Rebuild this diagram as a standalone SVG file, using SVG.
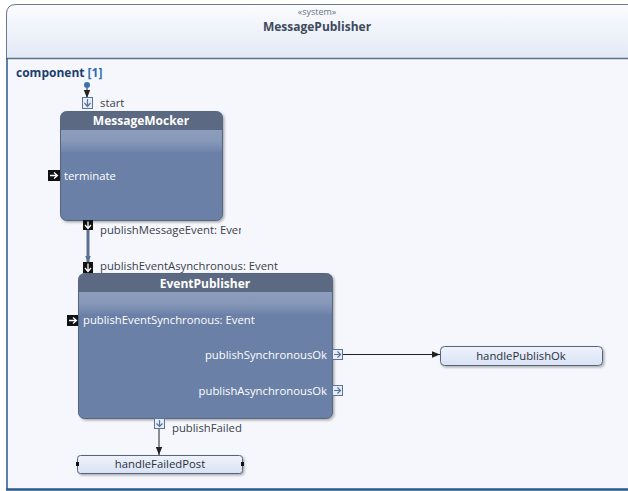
<svg xmlns="http://www.w3.org/2000/svg" width="628" height="491" viewBox="0 0 628 491">
  <defs>
    <linearGradient id="hdrGrad" x1="0" y1="0" x2="0" y2="1">
      <stop offset="0" stop-color="#fbfcfe"/>
      <stop offset="1" stop-color="#e2e9f6"/>
    </linearGradient>
    <linearGradient id="bandGrad" x1="0" y1="0" x2="0" y2="1">
      <stop offset="0" stop-color="#8c9dbd"/>
      <stop offset="0.5" stop-color="#8798b9"/>
      <stop offset="1" stop-color="#6f84ab"/>
    </linearGradient>
    <linearGradient id="callGrad" x1="0" y1="0" x2="0" y2="1">
      <stop offset="0" stop-color="#eef2fb"/>
      <stop offset="1" stop-color="#d9e2f4"/>
    </linearGradient>
    <filter id="shadow" x="-10%" y="-10%" width="130%" height="130%">
      <feDropShadow dx="1.5" dy="1.5" stdDeviation="1.2" flood-color="#000" flood-opacity="0.3"/>
    </filter>
    <marker id="arrow" viewBox="0 0 10 10" refX="10" refY="5" markerWidth="8" markerHeight="8" markerUnits="userSpaceOnUse" orient="auto">
      <path d="M0,1 L10,5 L0,9 z" fill="#222"/>
    </marker>
    <marker id="arrowBlue" viewBox="0 0 10 10" refX="10" refY="5" markerWidth="7" markerHeight="7" markerUnits="userSpaceOnUse" orient="auto">
      <path d="M0,1 L10,5 L0,9 z" fill="#5b6f92"/>
    </marker>
  </defs>
  <style>
    text { font-family: "Open Sans", "Noto Sans", "Liberation Sans", sans-serif; }
    .lbl { font-size: 11.3px; fill: #3a414c; }
    .wlbl { font-size: 11.3px; fill: #ffffff; }
    .title { font-size: 12px; font-weight: bold; fill: #ffffff; text-anchor: middle; }
    .part { fill: #6b80a7; stroke: #56667f; stroke-width: 1; }
    .partHdr { fill: #5b6982; }
    .band { fill: url(#bandGrad); }
    .blackPort { fill: #111; }
    .outPort { fill: #e6edf8; stroke: #5b7397; stroke-width: 1; }
    .glyph { fill: none; stroke: #fff; stroke-width: 1.3; }
    .glyphDark { fill: none; stroke: #5b7397; stroke-width: 1.2; }
    .call { fill: url(#callGrad); stroke: #55657d; stroke-width: 1; }
    .callText { font-size: 11.3px; fill: #2a2f3a; text-anchor: middle; }
    .conn { stroke: #222; stroke-width: 1; fill: none; }
  </style>

  <!-- background -->
  <rect x="0" y="0" width="628" height="491" fill="#ffffff"/>

  <!-- system frame -->
  <g id="system-frame">
    <path d="M6,490 L6,14 Q6,4 16,4 L630,4 L630,490 Z" fill="#f5f7fc"/>
    <path d="M6,58 L6,14 Q6,4 16,4 L630,4 L630,58 Z" fill="url(#hdrGrad)"/>
    <line x1="6" y1="58.5" x2="630" y2="58.5" stroke="#5d6f88" stroke-width="1.5"/>
    <path d="M6.5,58 L6.5,14 Q6.5,4.5 16,4.5 L630,4.5" fill="none" stroke="#6a7a92" stroke-width="1"/>
    <line x1="7" y1="58" x2="7" y2="490" stroke="#2c5a8c" stroke-width="1.5"/>
    <line x1="6" y1="489.5" x2="630" y2="489.5" stroke="#2c5a8c" stroke-width="2.5"/>
    <text x="317" y="15" font-size="9" fill="#6b7585" text-anchor="middle">«system»</text>
    <text x="317" y="31" font-size="12" font-weight="bold" fill="#3d4a5c" text-anchor="middle">MessagePublisher</text>
    <text x="16" y="77" font-size="12" font-weight="bold" fill="#1f3e6e">component <tspan fill="#2e6db4" font-weight="bold">[1]</tspan></text>
  </g>

  <!-- connectors -->
  <g id="connectors">
    <circle cx="87" cy="85" r="3" fill="#3c6fb0"/>
    <line class="conn" x1="87" y1="88" x2="87" y2="98" marker-end="url(#arrow)"/>
    <line x1="88" y1="230" x2="88" y2="263" stroke="#5b6f92" stroke-width="3" marker-end="url(#arrowBlue)"/>
    <line class="conn" x1="342" y1="354.5" x2="440" y2="354.5" marker-end="url(#arrow)"/>
    <line class="conn" x1="159" y1="428" x2="159" y2="455" marker-end="url(#arrow)"/>
  </g>

  <!-- MessageMocker part -->
  <g id="MessageMocker">
    <rect class="part" x="60.5" y="111.5" width="162" height="109" rx="6" filter="url(#shadow)"/>
    <path class="partHdr" d="M61,130 L61,117.5 Q61,112 66.5,112 L216.5,112 Q222,112 222,117.5 L222,130 Z"/>
    <rect class="band" x="61" y="130" width="161" height="22"/>
    <text class="title" x="141" y="125">MessageMocker</text>
    <!-- start port -->
    <rect class="outPort" x="82.5" y="97.5" width="10" height="11"/>
    <path class="glyphDark" d="M87.5,99 V106 M84.5,103 L87.5,106.5 L90.5,103"/>
    <text class="lbl" x="100" y="107">start</text>
    <!-- terminate port -->
    <rect class="blackPort" x="48" y="170" width="12" height="11"/>
    <path class="glyph" d="M50,175.5 H57 M54,172.5 L57.5,175.5 L54,178.5"/>
    <text class="wlbl" x="64" y="180">terminate</text>
    <!-- publishMessageEvent port -->
    <rect class="blackPort" x="83" y="220" width="10" height="10"/>
    <path class="glyph" d="M88,221.5 V228 M85,225 L88,228.5 L91,225"/>
    <svg x="100" y="220" width="141" height="20" overflow="hidden">
      <text class="lbl" x="0" y="14">publishMessageEvent: Event</text>
    </svg>
  </g>

  <!-- EventPublisher part -->
  <g id="EventPublisher">
    <rect class="part" x="78.5" y="273.5" width="254" height="145" rx="6" filter="url(#shadow)"/>
    <path class="partHdr" d="M79,292 L79,279.5 Q79,274 84.5,274 L326.5,274 Q332,274 332,279.5 L332,292 Z"/>
    <rect class="band" x="79" y="292" width="253" height="22"/>
    <text class="title" x="205" y="288">EventPublisher</text>
    <!-- publishEventAsynchronous port -->
    <rect class="blackPort" x="83" y="262" width="10" height="11"/>
    <path class="glyph" d="M88,263.5 V271 M85,268 L88,271.5 L91,268"/>
    <text class="lbl" x="100" y="270">publishEventAsynchronous: Event</text>
    <!-- publishEventSynchronous port -->
    <rect class="blackPort" x="67" y="315" width="11" height="11"/>
    <path class="glyph" d="M69,320.5 H76 M73,317.5 L76.5,320.5 L73,323.5"/>
    <text class="wlbl" x="83" y="324">publishEventSynchronous: Event</text>
    <!-- publishSynchronousOk port -->
    <rect class="outPort" x="332.5" y="349.5" width="10" height="10"/>
    <path class="glyphDark" d="M334,354.5 H340.5 M337.5,351.5 L340.5,354.5 L337.5,357.5"/>
    <text class="wlbl" x="327" y="358.5" text-anchor="end">publishSynchronousOk</text>
    <!-- publishAsynchronousOk port -->
    <rect class="outPort" x="332.5" y="385.5" width="10" height="10"/>
    <path class="glyphDark" d="M334,390.5 H340.5 M337.5,387.5 L340.5,390.5 L337.5,393.5"/>
    <text class="wlbl" x="327" y="394.5" text-anchor="end">publishAsynchronousOk</text>
    <!-- publishFailed port -->
    <rect class="outPort" x="154.5" y="418.5" width="10" height="10"/>
    <path class="glyphDark" d="M159.5,420 V426.5 M156.5,423.5 L159.5,426.5 L162.5,423.5"/>
    <text class="lbl" x="172" y="432">publishFailed</text>
  </g>

  <!-- handlePublishOk call -->
  <g id="handlePublishOk">
    <rect class="call" x="440.5" y="346.5" width="162" height="19" rx="4" filter="url(#shadow)"/>
    <text class="callText" x="521" y="360">handlePublishOk</text>
  </g>

  <!-- handleFailedPost call -->
  <g id="handleFailedPost">
    <rect class="call" x="77.5" y="455.5" width="165" height="18" rx="3" stroke="#222" filter="url(#shadow)"/>
    <rect x="76" y="462" width="3" height="4" fill="#111"/>
    <rect x="241" y="462" width="3" height="4" fill="#111"/>
    <text class="callText" x="160" y="468">handleFailedPost</text>
  </g>
</svg>
